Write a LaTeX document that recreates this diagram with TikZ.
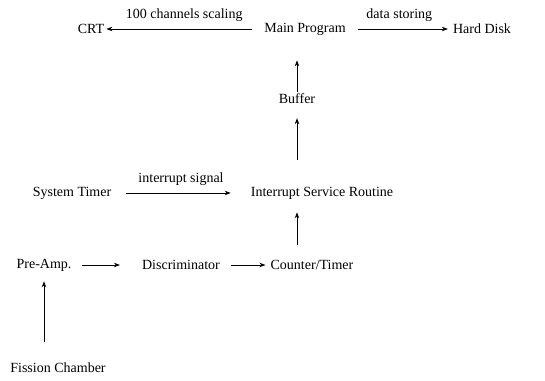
\documentclass[tikz,border=0pt]{standalone}
\usepackage{fontspec}
\setmainfont{Liberation Serif}
\usetikzlibrary{arrows.meta, positioning}

\tikzset{
    block/.style={inner sep=0pt, font=\fontsize{14}{16}\selectfont},
    flow/.style={-{Stealth[length=6pt, width=4.5pt]}, line width=0.8pt},
    tag/.style={above=7pt, inner sep=0pt, font=\fontsize{14}{16}\selectfont}
}

\begin{document}
\begin{tikzpicture}[x=1pt, y=-1pt]
        \useasboundingbox (0,0) rectangle (545,380);

        % Top row
        \node[block] (crt) at (91, 29) {CRT};
        \node[block] (main) at (305, 29) {Main Program};
        \node[block] (disk) at (482, 29) {Hard Disk};
        \node[block] (buffer) at (297, 99) {Buffer};

        % Middle row
        \node[block] (timer) at (72, 193) {System Timer};
        \node[block] (isr) at (322, 193) {Interrupt Service Routine};

        % Bottom row
        \node[block] (preamp) at (44, 265) {Pre-Amp.};
        \node[block] (disc) at (181, 265) {Discriminator};
        \node[block] (counter) at (312, 265) {Counter/Timer};
        \node[block] (fission) at (58, 368) {Fission Chamber};

        % Output of the main program
        \draw[flow, shorten <=12pt, shorten >=2pt] (main) -- node[tag] {100 channels scaling} (crt);
        \draw[flow, shorten <=12pt, shorten >=5pt] (main) -- node[tag] {data storing} (disk);

        % Up the chain
        \draw[flow, shorten <=2pt, shorten >=25pt] (buffer.north) -- (buffer.north |- main.south);
        \draw[flow, shorten <=27pt, shorten >=14pt] (isr.north -| buffer.south) -- (buffer.south);
        \draw[flow, shorten <=15pt, shorten >=13pt] (counter.north -| buffer.south) -- (isr.south -| buffer.south);
        \draw[flow, shorten <=21pt, shorten >=10pt] (fission.north -| preamp.south) -- (preamp.south);

        % Signal chain
        \draw[flow, shorten <=15pt, shorten >=20pt] (timer) -- node[tag] {interrupt signal} (isr);
        \draw[flow, shorten <=10pt, shorten >=22pt] (preamp) -- (disc);
        \draw[flow, shorten <=11pt, shorten >=5pt] (disc) -- (counter);

\end{tikzpicture}
\end{document}
